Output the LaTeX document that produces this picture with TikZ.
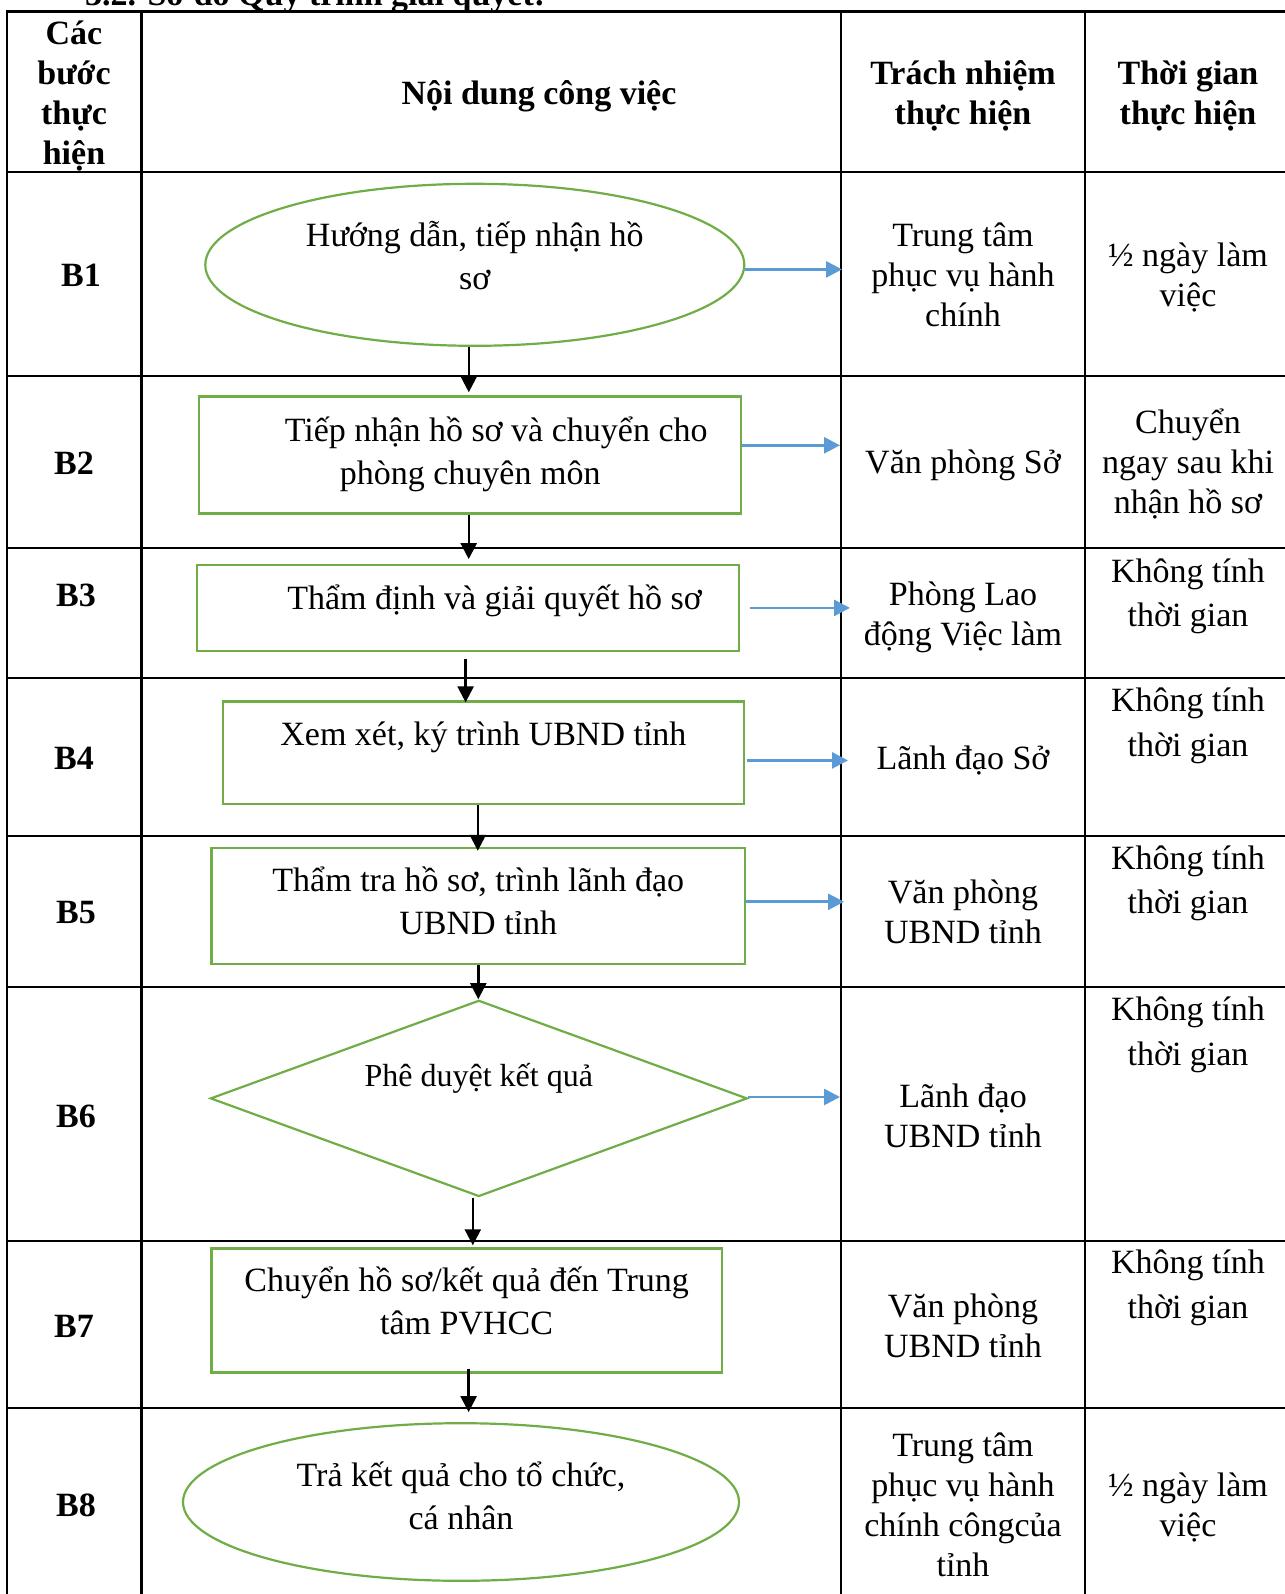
\documentclass[tikz,border=0pt]{standalone}
\usepackage{fontspec}
\setmainfont{Liberation Serif}
\usepackage{xcolor}
\usetikzlibrary{arrows.meta, shapes.geometric}
\definecolor{flowgreen}{HTML}{70AD47}
\definecolor{flowblue}{HTML}{5B9BD5}

\begin{document}
\begin{tikzpicture}[x=1pt, y=-1pt,
    % Table styles
    grid/.style={line width=2.4pt, line cap=rect},
    txt/.style={align=center, inner sep=0pt, font=\fontsize{34}{40}\selectfont},
    head/.style={txt, font=\fontsize{34}{40}\selectfont\bfseries},
    flowtxt/.style={txt, font=\fontsize{34}{43}\selectfont},
    % Flow chart shapes
    stepbox/.style={rectangle, draw=flowgreen, line width=2.2pt, inner sep=0pt},
    stepoval/.style={ellipse, draw=flowgreen, line width=2.2pt, inner sep=0pt},
    stepdiam/.style={diamond, draw=flowgreen, line width=2.2pt, inner sep=0pt},
    arrow/.style={-{Triangle[length=16pt, width=16pt]}, line width=2.4pt},
    bluearrow/.style={arrow, line width=2.7pt, draw=flowblue, fill=flowblue}
]
\useasboundingbox (0,0) rectangle (1284,1594);

% Title (cut off at the top)
\node[head, anchor=base west] (title) at (85,6) {3.2. Sơ đồ Quy trình giải quyết:};

% Table lines
\foreach \y/\name in {11.5/h0, 172/h1, 376/h2, 548/h3, 678/h4, 836/h5, 987/h6, 1241/h7, 1408/h8} {
    \coordinate (\name) at (0,\y);
    \draw[grid] (7,\y) -- (1284,\y);
}
\foreach \x/\name in {7/v0, 141.5/v1, 841/v2, 1085/v3} {
    \coordinate (\name) at (\x,0);
    \draw[grid] (\x,11.5) -- (\x,1600);
}

% Header
\node[head] (hstep) at (74,96.5) {Các\\bước\\thực\\hiện};
\node[head] (hwork) at (539,96) {Nội dung công việc};
\node[head] (hresp) at (963,96) {Trách nhiệm\\thực hiện};
\node[head] (htime) at (1188,96) {Thời gian\\thực hiện};

% Step labels
\foreach \i/\x/\y in {1/81/275.5, 2/74/463, 3/76/595.5, 4/74/758, 5/76/913, 6/76/1116, 7/74/1326, 8/76/1505} {
    \node[head] (s\i) at (\x,\y) {B\i};
}

% Flow chart
\node[stepoval, minimum width=539pt, minimum height=162pt] (b1) at (474.8,264.8) {};
\node[stepbox, minimum width=542pt, minimum height=117pt] (b2) at (470.2,454.9) {};
\node[stepbox, minimum width=542pt, minimum height=85.4pt] (b3) at (468.1,607.9) {};
\node[stepbox, minimum width=521.5pt, minimum height=102.7pt] (b4) at (483.4,752.8) {};
\node[stepbox, minimum width=533.7pt, minimum height=115.9pt] (b5) at (478.3,905.8) {};
\node[stepdiam, minimum width=536.8pt, minimum height=196.2pt] (b6) at (478.8,1098.4) {};
\node[stepbox, minimum width=510.3pt, minimum height=124pt] (b7) at (466.6,1310.4) {};
\node[stepoval, minimum width=556pt, minimum height=157.6pt] (b8) at (461,1502) {};

% Flow chart texts
\node[flowtxt] (t1) at ([yshift=9pt]b1.center) {Hướng dẫn, tiếp nhận hồ\\sơ};
\node[flowtxt] (t2) at ([yshift=1pt]b2.center) {\hspace*{52pt}Tiếp nhận hồ sơ và chuyển cho\\phòng chuyên môn};
\node[flowtxt] (t3) at ([xshift=26.5pt, yshift=7pt]b3.center) {Thẩm định và giải quyết hồ sơ};
\node[flowtxt] (t4) at ([yshift=15.8pt]b4.center) {Xem xét, ký trình UBND tỉnh};
\node[flowtxt] (t5) at ([yshift=5pt]b5.center) {Thẩm tra hồ sơ, trình lãnh đạo\\UBND tỉnh};
\node[flowtxt, font=\fontsize{32}{38}\selectfont] (t6) at ([yshift=19.8pt]b6.center) {Phê duyệt kết quả};
\node[flowtxt] (t7) at ([yshift=9.2pt]b7.center) {Chuyển hồ sơ/kết quả đến Trung\\tâm PVHCC};
\node[flowtxt] (t8) at ([yshift=6pt]b8.center) {Trả kết quả cho tổ chức,\\cá nhân};

% Step to step
\foreach \a/\b/\dx/\sy/\ey in {b1/b2/-6/0/3, b2/b3/-1.5/0/5, b3/b4/-2.5/-7/-2, b4/b5/-5.6/0/-4,
                               b5/b6/0/0/0, b6/b7/-6/0/2, b7/b8/2/5/10} {
    \draw[arrow] ([xshift=\dx pt, yshift=\sy pt]\a.south) -- ([xshift=\dx pt, yshift=\ey pt]\a.south |- \b.north);
}

% Step to responsible unit
\draw[bluearrow] ([yshift=-4.6pt]b1.east) -- ([xshift=1pt, yshift=-4.6pt]b1.east -| v2);
\draw[bluearrow] ([yshift=9.6pt]b2.east) -- ([xshift=-1pt, yshift=9.6pt]b2.east -| v2);
\draw[bluearrow] ([xshift=10pt]b3.east) -- ([xshift=9pt]b3.east -| v2);
\draw[bluearrow] ([xshift=2pt, yshift=-7.6pt]b4.east) -- ([xshift=7pt, yshift=-7.6pt]b4.east -| v2);
\draw[bluearrow] ([yshift=4pt]b5.east) -- ([xshift=3pt, yshift=4pt]b5.east -| v2);
\draw[bluearrow] ([yshift=1.4pt]b6.east) -- ([xshift=-1pt, yshift=1.4pt]b6.east -| v2);

% Responsible unit
\node[txt] (r1) at (963,274.5) {Trung tâm\\phục vụ hành\\chính};
\node[txt] (r2) at (963,465.6) {Văn phòng Sở};
\node[txt] (r3) at (963,617.5) {Phòng Lao\\động Việc làm};
\node[txt] (r4) at (963,760.4) {Lãnh đạo Sở};
\node[txt] (r5) at (963,912) {Văn phòng\\UBND tỉnh};
\node[txt] (r6) at (963,1115.7) {Lãnh đạo\\UBND tỉnh};
\node[txt] (r7) at (963,1326) {Văn phòng\\UBND tỉnh};
\node[txt] (r8) at (963,1504.6) {Trung tâm\\phục vụ hành\\chính côngcủa\\tỉnh};

% Time
\node[txt] (d1) at (1188,277) {½ ngày làm\\việc};
\node[txt] (d2) at (1188,463.5) {Chuyển\\ngay sau khi\\nhận hồ sơ};
\foreach \i/\y in {3/596.2, 4/725.8, 5/883.4, 6/1034.8, 7/1288} {
    \node[txt, font=\fontsize{34}{44.5}\selectfont] (d\i) at (1188,\y) {Không tính\\thời gian};
}
\node[txt] (d8) at (1188,1507) {½ ngày làm\\việc};

\end{tikzpicture}
\end{document}
